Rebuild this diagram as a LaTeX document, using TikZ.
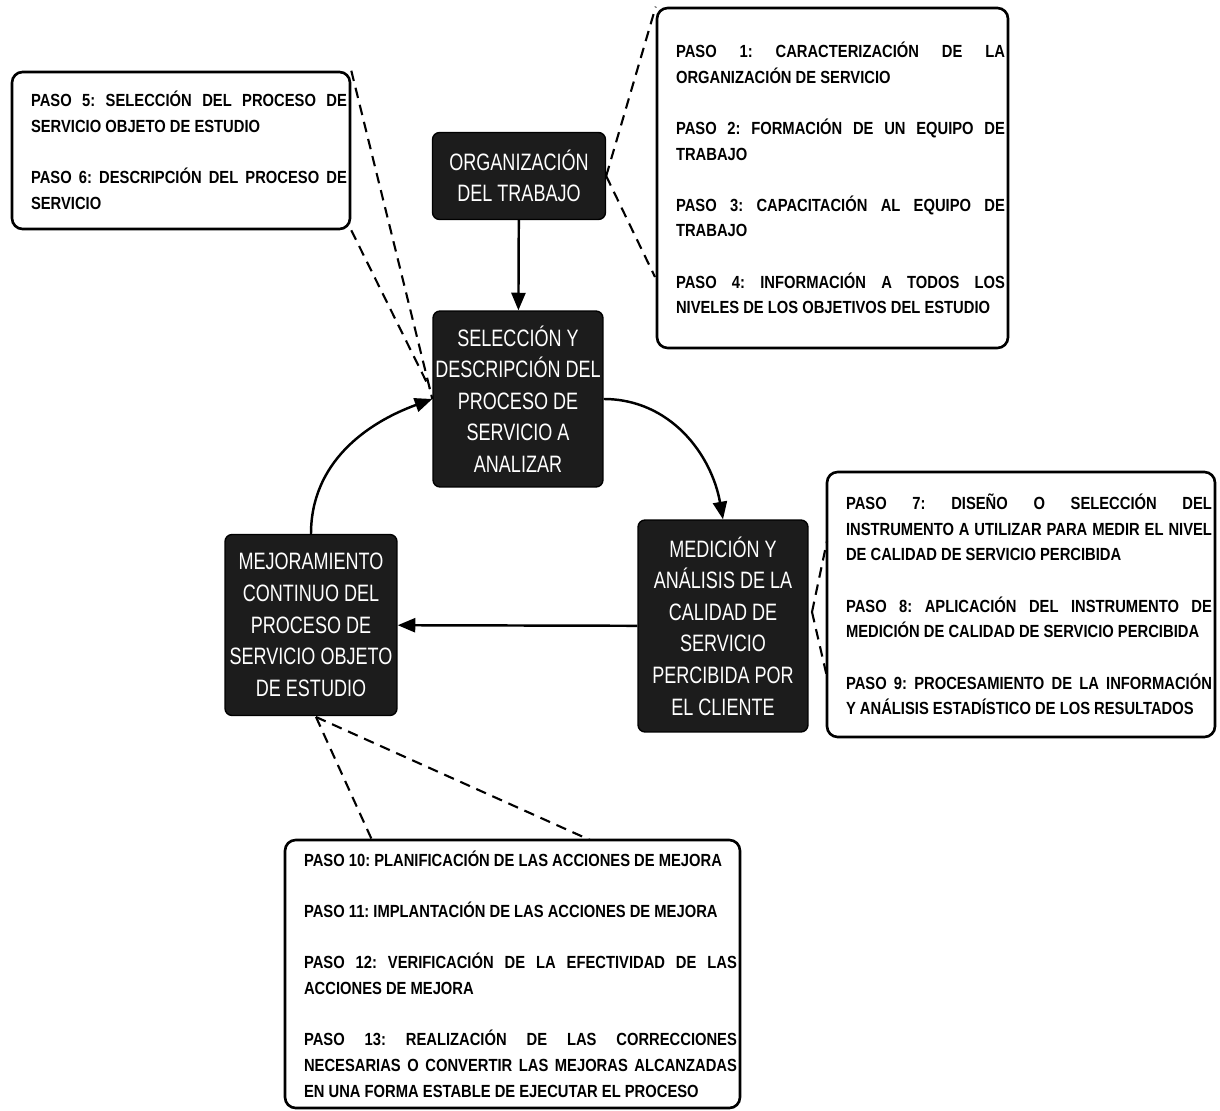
\documentclass[tikz,border=0pt]{standalone}
\usepackage{fontspec}
\setmainfont{Liberation Sans}
\newfontfamily\cajafont{Liberation Sans}[FakeStretch=0.76]
\newfontfamily\pasofont{Liberation Sans}[FakeStretch=0.84, UprightFont=*-Bold]
\usetikzlibrary{arrows.meta}
\definecolor{cajaoscura}{HTML}{1C1C1C}
\frenchspacing

\begin{document}
\begin{tikzpicture}[x=0.02cm, y=-0.02cm,
    etapa/.style={draw=black, fill=cajaoscura, rounded corners=4pt, line width=0.8pt,
        text=white, align=center, inner sep=1pt, font=\cajafont\fontsize{13.5}{18}\selectfont},
    pasos/.style={draw=black, fill=white, rounded corners=6pt, line width=1.5pt, align=justify,
        inner xsep=0.06cm, inner ysep=2pt, font=\pasofont\fontsize{10}{14.6}\selectfont,
        execute at begin node={\leftskip=0.32cm}},
    flecha/.style={line width=1.4pt, -{Triangle[length=10pt,width=8pt]}},
    enlace/.style={line width=1.2pt, dash pattern=on 6pt off 4pt}]
    \useasboundingbox (0,0) rectangle (1220,1111);

    \node[etapa, minimum width=3.46cm, minimum height=1.74cm] (org) at (519,176)
        {ORGANIZACIÓN\\DEL TRABAJO};
    \node[etapa, minimum width=3.4cm, minimum height=3.52cm] (sel) at (518,399)
        {SELECCIÓN Y\\DESCRIPCIÓN DEL\\PROCESO DE\\SERVICIO A\\ANALIZAR};
    \node[etapa, minimum width=3.4cm, minimum height=4.24cm] (med) at (723,626)
        {MEDICIÓN Y\\ANÁLISIS DE LA\\CALIDAD DE\\SERVICIO\\PERCIBIDA POR\\EL CLIENTE};
    \node[etapa, minimum width=3.44cm, minimum height=3.62cm] (mej) at (311,625)
        {MEJORAMIENTO\\CONTINUO DEL\\PROCESO DE\\SERVICIO OBJETO\\DE ESTUDIO};

    \node[pasos, text width=6.9cm, minimum height=6.8cm] (s1) at (832.5,178)
        {PASO 1: CARACTERIZACIÓN DE LA\linebreak ORGANIZACIÓN DE SERVICIO\\[14.6pt]
         PASO 2: FORMACIÓN DE UN EQUIPO DE\linebreak TRABAJO\\[14.6pt]
         PASO 3: CAPACITACIÓN AL EQUIPO DE\linebreak TRABAJO\\[14.6pt]
         PASO 4: INFORMACIÓN A TODOS LOS\linebreak NIVELES DE LOS OBJETIVOS DEL ESTUDIO};
    \node[pasos, text width=6.64cm, minimum height=3.14cm] (s56) at (181,150.5)
        {PASO 5: SELECCIÓN DEL PROCESO DE\linebreak SERVICIO OBJETO DE ESTUDIO\\[14.6pt]
         PASO 6: DESCRIPCIÓN DEL PROCESO DE\linebreak SERVICIO};
    \node[pasos, text width=7.64cm, minimum height=5.3cm] (s79) at (1021,604.5)
        {PASO 7: DISEÑO O SELECCIÓN DEL\linebreak INSTRUMENTO A UTILIZAR PARA MEDIR EL NIVEL\linebreak DE CALIDAD DE SERVICIO PERCIBIDA\\[14.6pt]
         PASO 8: APLICACIÓN DEL INSTRUMENTO DE\linebreak MEDICIÓN DE CALIDAD DE SERVICIO PERCIBIDA\\[14.6pt]
         PASO 9: PROCESAMIENTO DE LA INFORMACIÓN\linebreak Y ANÁLISIS ESTADÍSTICO DE LOS RESULTADOS};
    \node[pasos, text width=8.98cm, minimum height=5.36cm] (s1013) at (512.5,974)
        {PASO 10: PLANIFICACIÓN DE LAS ACCIONES DE MEJORA\\[14.6pt]
         PASO 11: IMPLANTACIÓN DE LAS ACCIONES DE MEJORA\\[14.6pt]
         PASO 12: VERIFICACIÓN DE LA EFECTIVIDAD DE LAS\linebreak ACCIONES DE MEJORA\\[14.6pt]
         PASO 13: REALIZACIÓN DE LAS CORRECCIONES\linebreak NECESARIAS O CONVERTIR LAS MEJORAS ALCANZADAS\linebreak EN UNA FORMA ESTABLE DE EJECUTAR EL PROCESO};

    \draw[flecha] (org) -- (sel);
    \draw[flecha] (sel.east) to[out=0, in=100] (med.north);
    \draw[flecha] (med) -- (mej);
    \draw[flecha] (mej.north) to[out=90, in=200] (sel.west);

    \coordinate (s1b) at (655,277);
    \coordinate (selw) at (430,389);
    \coordinate (medx) at (812,612);
    \coordinate (s79a) at (827,541);
    \coordinate (s79b) at (827,677);
    \coordinate (mejs) at (316,717);
    \coordinate (s10a) at (372,840);
    \coordinate (s10b) at (590,840);
    \draw[enlace] (org.east) -- (s1.north west);
    \draw[enlace] (org.east) -- (s1b);
    \draw[enlace] (s56.north east) -- (sel.west);
    \draw[enlace] (s56.south east) -- (selw);
    \draw[enlace] (medx) -- (s79a);
    \draw[enlace] (medx) -- (s79b);
    \draw[enlace] (mejs) -- (s10a);
    \draw[enlace] (mejs) -- (s10b);
\end{tikzpicture}
\end{document}
